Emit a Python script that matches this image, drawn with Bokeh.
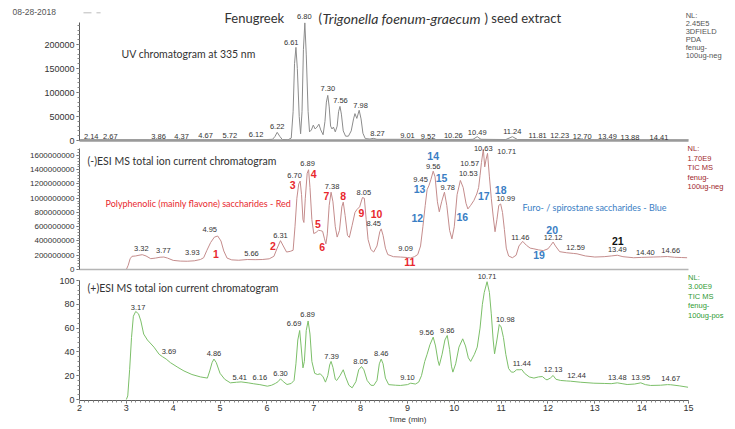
from bokeh.plotting import figure
from bokeh.models import (Label, LabelSet, ColumnDataSource, LinearAxis, SingleIntervalTicker,
                          FixedTicker, BasicTickFormatter, Range1d, Arrow, Title)
from bokeh.core.properties import value
from bokeh.layouts import column
from bokeh.embed import file_html
from bokeh.resources import INLINE

# ---------------- data ----------------
# UV chromatogram at 335 nm (absorbance units)
uv_t = [2.02, 2.14, 2.67, 3.5, 3.86, 4.37, 4.67, 5.2, 5.72, 6.0, 6.12, 6.17, 6.22, 6.28, 6.33, 6.45,
        6.52, 6.56, 6.59, 6.62, 6.65, 6.69, 6.72, 6.75, 6.78, 6.81, 6.84, 6.88, 6.91, 6.95, 6.99,
        7.03, 7.07, 7.11, 7.15, 7.20, 7.24, 7.27, 7.30, 7.33, 7.36, 7.39, 7.42, 7.46, 7.50, 7.53,
        7.56, 7.59, 7.63, 7.68, 7.74, 7.80, 7.85, 7.88, 7.92, 7.97, 8.01, 8.05, 8.10, 8.20, 8.27,
        8.35, 9.01, 9.52, 10.26, 10.40, 10.49, 10.57, 11.10, 11.24, 11.35, 12.0, 13.0, 14.0, 15.0]
uv_v = [1500, 1500, 1500, 1500, 1500, 1500, 1500, 1500, 1500, 2000, 2500, 8000, 17000, 8000, 2000, 1500,
        5000, 60000, 160000, 194000, 150000, 50000, 14000, 60000, 190000, 245000, 180000, 60000, 18000, 22000, 32000,
        24000, 28000, 34000, 22000, 12000, 40000, 80000, 94000, 70000, 30000, 24000, 28000, 18000, 30000, 60000,
        71000, 55000, 20000, 9000, 9000, 20000, 45000, 56000, 46000, 63000, 45000, 15000, 4000, 3000, 4500,
        2500, 2500, 2000, 2000, 2500, 8000, 2500, 2000, 8000, 2000, 1500, 1500, 1200, 1000]

# (-)ESI MS TIC (counts, millions)
neg_t = [3.00, 3.04, 3.08, 3.12, 3.20, 3.27, 3.34, 3.42, 3.52, 3.62, 3.72, 3.80, 3.88, 4.00, 4.15, 4.30,
         4.45, 4.58, 4.65, 4.72, 4.80, 4.88, 4.95, 5.02, 5.08, 5.15, 5.25, 5.40, 5.58, 5.75, 5.90, 6.05,
         6.15, 6.22, 6.29, 6.35, 6.42, 6.50, 6.56, 6.60, 6.64, 6.68, 6.71, 6.74, 6.77, 6.79, 6.82, 6.86,
         6.89, 6.92, 6.96, 7.00, 7.05, 7.10, 7.15, 7.19, 7.23, 7.26, 7.29, 7.33, 7.37, 7.41, 7.46, 7.50,
         7.55, 7.60, 7.63, 7.67, 7.72, 7.76, 7.82, 7.88, 7.92, 7.98, 8.04, 8.08, 8.12, 8.16, 8.22, 8.28,
         8.35, 8.41, 8.44, 8.48, 8.53, 8.58, 8.70, 8.85, 9.00, 9.07, 9.15, 9.22, 9.28, 9.33, 9.38, 9.42,
         9.46, 9.50, 9.55, 9.59, 9.64, 9.68, 9.73, 9.79, 9.84, 9.90, 9.95, 10.00, 10.06, 10.13, 10.19,
         10.25, 10.29, 10.35, 10.42, 10.48, 10.52, 10.55, 10.58, 10.62, 10.65, 10.68, 10.71, 10.75,
         10.79, 10.83, 10.87, 10.91, 10.95, 10.99, 11.03, 11.07, 11.11, 11.16, 11.24, 11.32, 11.38,
         11.46, 11.54, 11.62, 11.70, 11.80, 11.90, 12.00, 12.06, 12.11, 12.16, 12.25, 12.40, 12.55,
         12.62, 12.80, 13.00, 13.20, 13.35, 13.48, 13.60, 13.83, 14.00, 14.26, 14.40, 14.55, 14.70,
         14.85, 14.97]
neg_v = [0, 60, 150, 185, 190, 200, 208, 190, 152, 160, 172, 175, 160, 128, 118, 116,
         122, 140, 165, 270, 380, 455, 470, 400, 260, 160, 135, 130, 140, 138, 140, 150,
         185, 300, 405, 330, 245, 255, 270, 600, 1000, 1200, 1240, 1050, 700, 660, 1000, 1350,
         1400, 1150, 700, 505, 520, 550, 545, 535, 430, 360, 500, 900, 1085, 950, 600, 455,
         550, 880, 945, 760, 480, 450, 620, 800, 840, 880, 1010, 1000, 700, 420, 280, 245,
         330, 530, 570, 480, 300, 210, 180, 175, 168, 162, 180, 210, 330, 600, 900, 1120,
         1180, 1260, 1380, 1300, 950, 810, 950, 1085, 900, 550, 430, 600, 1050, 1250, 1150,
         930, 850, 900, 970, 1060, 1150, 1320, 1500, 1690, 1440, 1550, 1630, 1300,
         1000, 750, 530, 700, 900, 920, 800, 560, 300, 190, 165, 200, 330,
         395, 340, 300, 290, 275, 265, 290, 340, 385, 330, 250, 235, 225,
         220, 190, 175, 180, 190, 200, 180, 165, 170, 175, 178, 182, 172,
         168, 165]

# (+)ESI MS TIC (relative abundance, %)
pos_t = [3.00, 3.03, 3.07, 3.11, 3.15, 3.20, 3.26, 3.31, 3.37, 3.45, 3.59, 3.70, 3.77, 3.85, 3.94, 4.10,
         4.23, 4.40, 4.58, 4.73, 4.78, 4.83, 4.87, 4.92, 5.00, 5.10, 5.22, 5.35, 5.45, 5.60, 5.72, 5.85,
         6.01, 6.10, 6.18, 6.24, 6.29, 6.35, 6.43, 6.52, 6.58, 6.62, 6.66, 6.70, 6.73, 6.77, 6.80, 6.84,
         6.88, 6.92, 6.96, 7.02, 7.08, 7.14, 7.20, 7.25, 7.30, 7.34, 7.37, 7.41, 7.46, 7.49, 7.56, 7.63,
         7.68, 7.75, 7.82, 7.90, 7.96, 8.02, 8.07, 8.14, 8.22, 8.28, 8.35, 8.40, 8.44, 8.48, 8.53, 8.60,
         8.75, 8.85, 9.00, 9.07, 9.17, 9.24, 9.30, 9.37, 9.42, 9.48, 9.55, 9.60, 9.65, 9.68, 9.74, 9.80,
         9.85, 9.90, 9.94, 9.97, 10.03, 10.10, 10.18, 10.24, 10.30, 10.35, 10.43, 10.49, 10.55, 10.60,
         10.64, 10.70, 10.75, 10.79, 10.83, 10.86, 10.91, 10.96, 11.00, 11.05, 11.10, 11.16, 11.22,
         11.27, 11.33, 11.40, 11.44, 11.50, 11.60, 11.70, 11.80, 11.88, 11.95, 11.98, 12.05, 12.11,
         12.17, 12.27, 12.40, 12.48, 12.70, 12.98, 13.20, 13.35, 13.48, 13.60, 13.69, 13.85, 13.98,
         14.08, 14.19, 14.40, 14.55, 14.62, 14.80, 14.99]
pos_v = [0, 3, 25, 52, 70, 74, 72, 66, 55, 50, 44, 38, 36, 34, 31, 27,
         24, 21, 19, 18, 24, 31, 34, 31, 22, 17, 14, 14.5, 14.8, 14, 13.2, 12.5,
         11.2, 12, 13.5, 15, 17.4, 15, 12.6, 13.5, 16, 30, 50, 58, 45, 26.6, 32, 58,
         66, 55, 32, 22, 21, 21.6, 19, 14.6, 20, 29, 32, 27, 17, 16, 20, 25,
         19, 12, 9.8, 15, 25, 27.7, 25, 16, 12, 11.8, 16, 30, 34, 30, 18, 12.5,
         12, 11.8, 12.5, 13.7, 13, 14.6, 20, 32, 38, 46, 52.4, 45, 33, 28.6, 38, 50,
         53.8, 42, 28, 23, 30, 44, 51, 45, 35, 32, 38, 44, 60, 80,
         90, 99, 90, 72, 50, 38.4, 50, 63, 61, 52, 38, 26, 23,
         23, 25, 25, 25.2, 22, 19, 18, 19, 19.3, 17, 16.5, 18, 20.2,
         17, 16, 15.6, 15.4, 14.5, 13.7, 13.5, 13.3, 14, 13.2, 12.6, 13, 14,
         12.5, 11.8, 12, 12.5, 12.4, 11.5, 10.3]

# peak annotations (text, retention-time position, height)
uv_lbl = ["2.14", "2.67", "3.86", "4.37", "4.67", "5.72", "6.12", "6.22", "6.61", "6.80", "7.30", "7.56",
          "7.98", "8.27", "9.01", "9.52", "10.26", "10.49", "11.24", "11.81", "12.23", "12.70", "13.49",
          "13.88", "14.41"]
uv_lbl_t = [2.25, 2.66, 3.69, 4.18, 4.69, 5.21, 5.77, 6.22, 6.52, 6.80, 7.30, 7.57, 8.00, 8.36, 9.00,
            9.44, 9.98, 10.49, 11.24, 11.78, 12.25, 12.73, 13.27, 13.75, 14.37]
uv_lbl_v = [8300, 8300, 8300, 8300, 10400, 10400, 12500, 29200, 204800, 259000, 107700, 83300, 72900,
            15200, 10400, 9000, 10400, 17300, 19400, 10400, 10400, 8300, 8300, 6900, 6900]

neg_lbl = ["3.32", "3.77", "3.93", "4.95", "5.66", "6.31", "6.70", "6.89", "7.38", "8.05", "8.45", "9.09",
           "9.45", "9.56", "9.78", "10.53", "10.57", "10.63", "10.71", "10.99", "11.46", "12.12", "12.59",
           "13.49", "14.40", "14.66"]
neg_lbl_t = [3.32, 3.79, 4.41, 4.78, 5.67, 6.29, 6.59, 6.87, 7.39, 8.07, 8.28, 8.96, 9.28, 9.55, 9.86,
             10.30, 10.33, 10.62, 11.12, 11.10, 11.41, 12.11, 12.59, 13.48, 14.08, 14.62]
neg_lbl_v = [290, 267, 234, 557, 220, 477, 1319, 1483, 1165, 1085, 641, 290, 1259, 1450, 1155, 1343,
             1483, 1698, 1660, 992, 453, 453, 313, 276, 243, 267]

num_lbl = ["1", "2", "3", "4", "5", "6", "7", "8", "9", "10", "11", "12", "13", "14", "15", "16", "17",
           "18", "19", "20", "21"]
num_t = [4.91, 6.13, 6.55, 7.00, 7.09, 7.18, 7.27, 7.63, 8.02, 8.34, 9.05, 9.21, 9.26, 9.55, 9.73,
         10.17, 10.63, 10.99, 11.81, 12.09, 13.49]
num_v = [220, 323, 1179, 1343, 632, 313, 1025, 1025, 790, 782, 103, 726, 1133, 1586, 1287, 734, 1025,
         1119, 197, 557, 407]
num_class = ["flavone"] * 11 + ["saponin"] * 9 + ["other"]

pos_lbl = ["3.17", "3.69", "4.86", "5.41", "6.16", "6.30", "6.69", "6.89", "7.39", "8.05", "8.46", "9.10",
           "9.56", "9.86", "10.71", "10.98", "11.44", "12.13", "12.44", "13.48", "13.95", "14.67"]
pos_lbl_t = [3.25, 3.91, 4.87, 5.42, 5.85, 6.29, 6.58, 6.87, 7.38, 8.00, 8.44, 9.00, 9.41, 9.85, 10.70,
             11.09, 11.44, 12.11, 12.61, 13.48, 13.98, 14.62]
pos_lbl_v = [77.1, 40.3, 38.4, 18.7, 18.2, 22.1, 63.6, 71.2, 36.1, 32.2, 38.4, 18.2, 56.6, 58.0, 103.0,
             67.2, 30.0, 25.2, 20.2, 18.7, 18.7, 17.4]

# ---------------- styling ----------------
W = 735
XR = (2.0, 16.003)
AX = "#5a5a5a"
TXT = "#333333"
TICKFONT = "Liberation Sans"
UV_COL = "#8c8c8c"
NEG_COL = "#c48c8c"
POS_COL = "#7cbf69"
RED = "#e8282e"
BLUE = "#3a7ec4"


def make_fig(h, y0, y1, mt, mb):
    p = figure(width=W, height=h, x_range=Range1d(*XR), y_range=Range1d(y0, y1),
               output_backend="svg", toolbar_location=None,
               x_axis_location=None, y_axis_location=None,
               min_border_left=79, min_border_right=0, min_border_top=mt, min_border_bottom=mb)
    p.grid.visible = False
    p.outline_line_color = None
    p.background_fill_color = "white"
    p.border_fill_color = "white"
    return p


def y_axis(p, interval, bounds, fs):
    ax = LinearAxis(ticker=SingleIntervalTicker(interval=interval, num_minor_ticks=5),
                    formatter=BasicTickFormatter(use_scientific=False), bounds=bounds,
                    major_tick_out=3, major_tick_in=0, minor_tick_out=2, minor_tick_in=0,
                    major_label_standoff=2, axis_line_color=AX, major_tick_line_color=AX,
                    minor_tick_line_color="#8a8a8a",
                    major_label_text_font=TICKFONT, major_label_text_font_size=fs,
                    major_label_text_color=TXT)
    p.add_layout(ax, "left")


def base_axis(p, color, width):
    ax = LinearAxis(ticker=FixedTicker(ticks=[]), bounds=(2, 15), axis_line_color=color,
                    axis_line_width=width, major_tick_out=0, major_tick_in=0,
                    minor_tick_out=0, minor_tick_in=0)
    p.add_layout(ax, "below")


def txt(p, x, y, s, size, color=TXT, font="Lato", style="normal", align="left"):
    p.add_layout(Label(x=x, y=y, text=s, text_font=font, text_font_size=size, text_color=color,
                       text_font_style=style, text_align=align, text_baseline="middle"))


def peak_labels(p, t, v, s, size="7.5px", color=TXT, style="normal"):
    src = ColumnDataSource(dict(x=t, y=v, text=s))
    p.add_layout(LabelSet(x="x", y="y", text="text", source=src, text_font=value(TICKFONT),
                          text_font_size=value(size), text_color=color, text_font_style=style,
                          text_align="center", text_baseline="middle"))


# ---------- panel 1 : UV ----------
p1 = make_fig(145, 0, 268750, 11, 5)
p1.add_layout(Title(text="08-28-2018", align="left", offset=-67, standoff=-7,
                    text_font=TICKFONT, text_font_size="8.5px", text_color="#555555",
                    text_font_style="normal"), "above")
y_axis(p1, 50000, (0, 245000), "9px")
base_axis(p1, "#9a9a9a", 2.5)
p1.line(uv_t, uv_v, line_color=UV_COL, line_width=1)
peak_labels(p1, uv_lbl_t, uv_lbl_v, uv_lbl)

p1.add_layout(Arrow(end=None, x_start=1.53, y_start=266000, x_end=2.45, y_end=266000,
                    line_color="#bbbbbb", line_width=1, line_dash="8 5"))
txt(p1, 5.095, 254200, "Fenugreek", "13px")
txt(p1, 7.10, 254200, "(", "13px")
txt(p1, 7.187, 254200, "Trigonella foenum-graecum", "14px", style="italic")
txt(p1, 10.645, 254200, ") seed extract", "13px")
txt(p1, 2.897, 181250, "UV chromatogram at 335 nm", "10.5px")
for i, s in enumerate(["NL:", "2.45E5", "3DFIELD", "PDA", "fenug-", "100ug-neg"]):
    txt(p1, 14.94, 260400 - i * 16670, s, "7.5px", color="#555555", font=TICKFONT)

# ---------- panel 2 : (-)ESI ----------
M = 1e6
p2 = make_fig(128, 0, 1740.3 * M, 0, 4)
y_axis(p2, 200 * M, (0, 1700 * M), "8px")
base_axis(p2, "#b5b5b5", 1.5)
p2.line(neg_t, [v * M for v in neg_v], line_color=NEG_COL, line_width=1)
peak_labels(p2, neg_lbl_t, [v * M for v in neg_lbl_v], neg_lbl)
cls_col = {"flavone": RED, "saponin": BLUE, "other": "#111111"}
src_num = ColumnDataSource(dict(x=num_t, y=[v * M for v in num_v], text=num_lbl,
                                c=[cls_col[c] for c in num_class]))
p2.add_layout(LabelSet(x="x", y="y", text="text", source=src_num, text_font=value(TICKFONT),
                       text_font_size=value("10.5px"), text_color="c", text_font_style="bold",
                       text_align="center", text_baseline="middle"))
txt(p2, 2.171, 1515.8 * M, "(-)ESI MS total ion current chromatogram", "10.5px")
txt(p2, 2.555, 926.3 * M, "Polyphenolic (mainly flavone) saccharides - Red", "9px", color=RED)
txt(p2, 11.457, 870.2 * M, "Furo- / spirostane saccharides - Blue", "9px", color=BLUE)
for i, s in enumerate(["NL:", "1.70E9", "TIC  MS", "fenug-", "100ug-neg"]):
    txt(p2, 14.98, (1698 - i * 133.3) * M, s, "7.5px", color="#a0282c", font=TICKFONT)

# ---------- panel 3 : (+)ESI ----------
p3 = make_fig(156, -0.84, 105.9, 0, 29)
y_axis(p3, 20, (0, 100), "9px")
xa = LinearAxis(ticker=SingleIntervalTicker(interval=1, num_minor_ticks=10), bounds=(2, 15),
                major_tick_out=3, major_tick_in=0, minor_tick_out=2, minor_tick_in=0,
                major_label_standoff=1, axis_line_color=AX, major_tick_line_color=AX,
                minor_tick_line_color="#8a8a8a", major_label_text_font=TICKFONT,
                major_label_text_font_size="9px", major_label_text_color=TXT,
                axis_label="Time (min)", axis_label_standoff=1, axis_label_text_font=TICKFONT,
                axis_label_text_font_size="8px", axis_label_text_font_style="normal",
                axis_label_text_color=TXT)
p3.add_layout(xa, "below")
p3.line(pos_t, pos_v, line_color=POS_COL, line_width=1)
peak_labels(p3, pos_lbl_t, pos_lbl_v, pos_lbl)
txt(p3, 2.171, 93.3, "(+)ESI MS total ion current chromatogram", "10.5px")
for i, s in enumerate(["NL:", "3.00E9", "TIC  MS", "fenug-", "100ug-pos"]):
    txt(p3, 14.99, 102.5 - i * 7.9, s, "7.5px", color="#2f9a34", font=TICKFONT)

layout = column(p1, p2, p3, spacing=0)
open("out.html", "w").write(file_html(layout, INLINE))
